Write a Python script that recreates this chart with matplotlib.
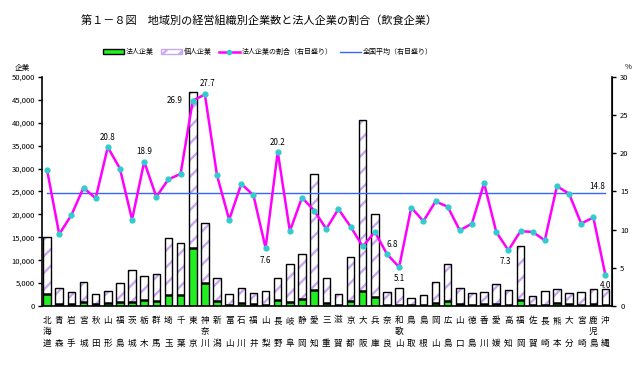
import matplotlib
matplotlib.use("Agg")
import matplotlib.pyplot as plt
import numpy as np
from matplotlib.patches import Patch
from matplotlib.lines import Line2D

plt.rcParams['font.family'] = ['Noto Sans CJK JP', 'DejaVu Sans']
plt.rcParams['hatch.linewidth'] = 1.7

prefs = ["北海道", "青森", "岩手", "宮城", "秋田", "山形", "福島", "茨城", "栃木", "群馬",
         "埼玉", "千葉", "東京", "神奈川", "新潟", "富山", "石川", "福井", "山梨", "長野",
         "岐阜", "静岡", "愛知", "三重", "滋賀", "京都", "大阪", "兵庫", "奈良", "和歌山",
         "鳥取", "島根", "岡山", "広島", "山口", "徳島", "香川", "愛媛", "高知", "福岡",
         "佐賀", "長崎", "熊本", "大分", "宮崎", "鹿児島", "沖縄"]

# total enterprises (法人 + 個人)
total = [15000, 3860, 3000, 5250, 2550, 3280, 5030, 7800, 6500, 6920,
         14800, 13700, 46700, 18100, 6050, 2550, 3860, 2770, 3280, 6050,
         9180, 11400, 28800, 6050, 2550, 10600, 40600, 20000, 3000, 3860,
         1680, 2330, 5250, 9180, 3860, 2770, 3000, 4740, 3500, 13050,
         2110, 3280, 3640, 2770, 3000, 3640, 3640]
# 法人企業
corp = [2700, 360, 355, 815, 360, 680, 905, 880, 1230, 990,
        2460, 2370, 12560, 5010, 1030, 290, 620, 400, 250, 1220,
        895, 1620, 3600, 610, 325, 1100, 3170, 1940, 205, 200,
        215, 255, 720, 1190, 380, 300, 480, 460, 255, 1280,
        205, 280, 570, 405, 325, 420, 145]
# 法人企業の割合 (%)
ratio = [17.8, 9.4, 11.9, 15.5, 14.1, 20.8, 18.0, 11.3, 18.9, 14.3,
         16.6, 17.3, 26.9, 27.7, 17.1, 11.3, 16.0, 14.5, 7.6, 20.2,
         9.8, 14.2, 12.5, 10.1, 12.7, 10.4, 7.8, 9.7, 6.8, 5.1,
         12.9, 11.1, 13.7, 13.0, 9.9, 10.8, 16.1, 9.7, 7.3, 9.8,
         9.7, 8.6, 15.7, 14.7, 10.8, 11.6, 4.0]
national_avg = 14.8

# labelled points: index -> (dx, dy) offset in points
labelled = {5: (0, 7), 8: (0, 7), 12: (-13, 0), 13: (2, 8), 19: (0, 7),
            18: (0, -9), 28: (4, 7), 29: (0, -8), 38: (-2, -8), 46: (0, -7)}

x = np.arange(len(prefs))
private = [t - c for t, c in zip(total, corp)]

fig = plt.figure(figsize=(6.44, 3.79), dpi=100)
ax = fig.add_axes([0.0652, 0.1926, 0.8848, 0.6044])

w = 0.62
ax.bar(x, corp, w, color="#22EE22", edgecolor="none", zorder=2)
ax.bar(x, private, w, bottom=corp, color="white", edgecolor="#C8A8F0",
       hatch="//", linewidth=0, zorder=2)
ax.bar(x, total, w, fill=False, edgecolor="black", linewidth=1.0, zorder=3)
ax.bar(x, [0] * len(x), w, bottom=corp, fill=False, edgecolor="black",
       linewidth=1.8, zorder=3)

ax.set_xlim(-0.42, len(prefs) - 0.48)
ax.set_ylim(0, 50000)
ax.set_yticks(range(0, 50001, 5000))
ax.set_yticklabels([f"{v:,}" for v in range(0, 50001, 5000)], fontsize=5.5)
ax.tick_params(axis="y", length=3, width=1, pad=2)
ax.set_xticks(x)
labels = []
for p in prefs:
    if len(p) == 3:
        labels.append("\n".join(p))
    else:
        labels.append(p[0] + "\n\n" + p[1])
ax.set_xticklabels(labels, fontsize=6.2, linespacing=1.35)
ax.tick_params(axis="x", length=0, pad=7)
ax.spines["top"].set_visible(False)
for s in ["left", "bottom"]:
    ax.spines[s].set_linewidth(1.2)

ax2 = ax.twinx()
ax2.set_ylim(0, 30)
ax2.set_yticks(range(0, 31, 5))
ax2.set_yticklabels([str(v) for v in range(0, 31, 5)], fontsize=5.5)
ax2.tick_params(axis="y", length=3, width=1, pad=3)
ax2.spines["top"].set_visible(False)
ax2.spines["right"].set_linewidth(1.2)
ax2.spines["left"].set_visible(False)
ax2.spines["bottom"].set_visible(False)

ax2.plot([x[0], x[-1]], [national_avg, national_avg], color="#3366FF",
         lw=1.0, zorder=4)
ax2.plot(x, ratio, color="#FF00FF", lw=1.8, marker="o", markersize=3.5,
         markerfacecolor="#33CCCC", markeredgecolor="#33CCCC", zorder=5)

for i, (dx, dy) in labelled.items():
    ax2.annotate(f"{ratio[i]:.1f}", (x[i], ratio[i]), xytext=(dx, dy),
                 textcoords="offset points", ha="center", va="center",
                 fontsize=5.8)
ax2.annotate(f"{national_avg:.1f}", (x[-1], national_avg), xytext=(-6, 5),
             textcoords="offset points", ha="center", va="center", fontsize=5.8)

fig.text(0.402, 0.947, "第１－８図　地域別の経営組織別企業数と法人企業の割合（飲食企業）",
         ha="center", va="center", fontsize=8)
fig.text(0.034, 0.82, "企業", ha="center", va="center", fontsize=5.5)
fig.text(0.975, 0.823, "%", ha="center", va="center", fontsize=5.5)

# legend built by hand to match the one-row layout
handles = [Patch(facecolor="#22EE22", edgecolor="black"),
           Patch(facecolor="white", edgecolor="#C8A8F0", hatch="//"),
           Line2D([], [], color="#FF00FF", lw=1.8, marker="o", markersize=3,
                  markerfacecolor="#33CCCC", markeredgecolor="#33CCCC"),
           Line2D([], [], color="#3366FF", lw=1.0)]
names = ["法人企業", "個人企業", "法人企業の割合（右目盛り）", "全国平均（右目盛り）"]
fig.legend(handles, names, loc="center", bbox_to_anchor=(0.416, 0.862), ncol=4,
           frameon=False, fontsize=5, handlelength=3.0, handleheight=0.7,
           handletextpad=0.3, columnspacing=1.0)

fig.savefig("out.png", dpi=100)
